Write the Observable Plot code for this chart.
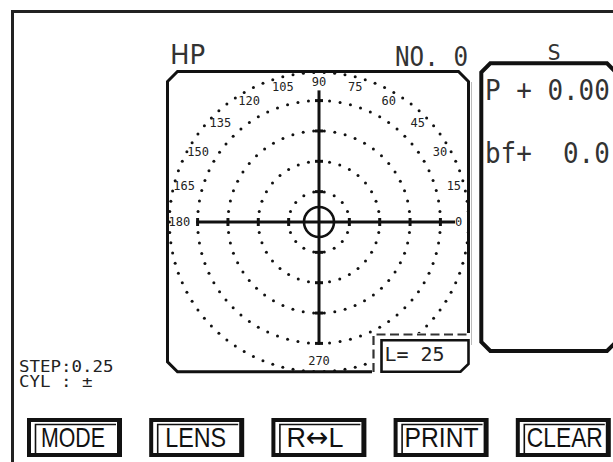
<!DOCTYPE html>
<html><head><meta charset="utf-8">
<script src="https://cdn.jsdelivr.net/npm/d3@7"></script>
<script src="https://cdn.jsdelivr.net/npm/@observablehq/plot@0.6"></script>
<style>
html,body{margin:0;padding:0;background:#fff;}
#wrap{position:relative;width:613px;height:462px;overflow:hidden;background:#fff;}
#wrap svg{position:absolute;left:0;top:0;}
</style>
</head><body>
<div id="wrap"></div>
<script>
// ---- data ----
const ringRadii = [1, 2, 3, 4, 4.93];          // dotted rings (scale units)
const ringDotCounts = [18, 36, 54, 72, 90];     // dots per ring
const angleLabels = [0, 15, 30, 45, 60, 75, 90, 105, 120, 135, 150, 165, 180, 270];
const labelRadius = 4.6;
const axisTickRadii = [1, 2, 3, 4];
const hAxisExtent = [-4.02, 4.5];
const vAxisExtent = [-4.02, 4.32];
const centerMark = [{x: 0, y: 0}];
const headerTexts = ["HP", "NO. 0", "S"];
const powerTexts = ["P + 0.00", "bf+  0.0"];
const lensTexts = ["L= 25"];
const statusTexts = ["STEP:0.25", "CYL : \u00B1"];
const buttonLabels = ["MODE", "LENS", "R\u2194L", "PRINT", "CLEAR"];

// ---- layout ----
const W = 613, H = 462;
const cx = 318.5, cy = 221.5, ppu = 30.35;
const rad = d => d * Math.PI / 180;

const ringDots = ringRadii.flatMap((r, i) =>
  d3.range(ringDotCounts[i]).map(k => {
    const a = 2 * Math.PI * k / ringDotCounts[i];
    return {x: r * Math.cos(a), y: r * Math.sin(a)};
  }));
const th = 4 / ppu;
const hTicks = axisTickRadii.flatMap(r => [r, -r]).map(v => ({x1: v, x2: v, y1: -th, y2: th}));
const vTicks = axisTickRadii.flatMap(r => [r, -r]).map(v => ({x1: -th, x2: th, y1: v, y2: v}));

const plot = Plot.plot({
  width: W, height: H, margin: 0,
  x: {domain: [-cx / ppu, (W - cx) / ppu], range: [0, W], axis: null},
  y: {domain: [-(H - cy) / ppu, cy / ppu], range: [H, 0], axis: null},
  style: {background: "transparent"},
  marks: [
    Plot.dot(ringDots, {x: "x", y: "y", r: 1.5, fill: "#111", stroke: "none"}),
    Plot.ruleY([0], {x1: hAxisExtent[0], x2: hAxisExtent[1], stroke: "#111", strokeWidth: 3}),
    Plot.ruleX([0], {y1: vAxisExtent[0], y2: vAxisExtent[1], stroke: "#111", strokeWidth: 3}),
    Plot.link(hTicks, {x1: "x1", x2: "x2", y1: "y1", y2: "y2", stroke: "#111", strokeWidth: 3}),
    Plot.link(vTicks, {x1: "x1", x2: "x2", y1: "y1", y2: "y2", stroke: "#111", strokeWidth: 3}),
    Plot.dot(centerMark, {x: "x", y: "y", r: 15, stroke: "#111", strokeWidth: 2.6, fill: "none"}),
    Plot.text(angleLabels, {
      x: a => labelRadius * Math.cos(rad(a)), y: a => labelRadius * Math.sin(rad(a)),
      text: a => String(a), fontSize: 12, fontFamily: "DejaVu Sans Mono", fill: "#222"
    })
  ]
});
document.getElementById("wrap").appendChild(plot);

// ---- instrument chrome ----
const svg = d3.select("#wrap").append("svg").attr("width", W).attr("height", H)
  .style("font-family", "'DejaVu Sans Mono', monospace");

const chamfer = (x0, y0, x1, y1, c) =>
  `M${x0 + c},${y0}H${x1 - c}L${x1},${y0 + c}V${y1 - c}L${x1 - c},${y1}H${x0 + c}L${x0},${y1 - c}V${y0 + c}Z`;

svg.append("path").attr("d", "M12.5,462V11.5H613").attr("fill", "none").attr("stroke", "#222").attr("stroke-width", 3);
svg.append("path").attr("d", chamfer(167.5, 71.5, 468.5, 371.8, 10)).attr("fill", "none").attr("stroke", "#111").attr("stroke-width", 3);
svg.append("line").attr("x1", 471.5).attr("x2", 471.5).attr("y1", 82).attr("y2", 345).attr("stroke", "#bbb").attr("stroke-width", 1);

// L box
svg.append("rect").attr("x", 372).attr("y", 333).attr("width", 99).attr("height", 42).attr("fill", "#fff");
svg.append("path").attr("d", "M373.5,372V334.5H469").attr("fill", "none").attr("stroke", "#333")
  .attr("stroke-width", 2.2).attr("stroke-dasharray", "9 4.5");
svg.append("path").attr("d", "M381.5,340.3H468.5V364L460.5,371.8H381.5Z").attr("fill", "#fff").attr("stroke", "#111").attr("stroke-width", 2.6);
svg.append("text").attr("x", 384.5).attr("y", 361).attr("font-size", 20).attr("fill", "#222")
  .attr("textLength", 60).attr("lengthAdjust", "spacingAndGlyphs").text(lensTexts[0]);

// S panel
svg.append("path").attr("d", chamfer(481.3, 63.3, 616, 351, 9)).attr("fill", "none").attr("stroke", "#111").attr("stroke-width", 4);

// headers
svg.append("text").attr("x", 170).attr("y", 64).attr("font-size", 26).attr("fill", "#333")
  .attr("font-family", "'DejaVu Sans', sans-serif").text(headerTexts[0]);
svg.append("text").attr("x", 395).attr("y", 66).attr("font-size", 26).attr("fill", "#333")
  .attr("textLength", 73).attr("lengthAdjust", "spacingAndGlyphs").style("white-space", "pre").text(headerTexts[1]);
svg.append("text").attr("x", 554).attr("y", 59.5).attr("font-size", 22).attr("fill", "#333").attr("text-anchor", "middle").text(headerTexts[2]);

// power readings
[[100, 0], [163, 1]].forEach(([y, i]) =>
  svg.append("text").attr("x", 485).attr("y", y).attr("font-size", 29).attr("fill", "#333")
    .attr("textLength", 8 * 15.6).attr("lengthAdjust", "spacingAndGlyphs").style("white-space", "pre")
    .text(powerTexts[i]));

// status
[[9 * 10.5], [7 * 10.5]].forEach(([len], i) =>
  svg.append("text").attr("x", 19).attr("y", 371.5 + i * 15.5).attr("font-size", 16).attr("fill", "#222")
    .attr("textLength", len).attr("lengthAdjust", "spacingAndGlyphs")
    .style("white-space", "pre").text(statusTexts[i]));

// buttons
const labelWidths = [64, 61, 57, 74, 76];
const labelInset = [14, 16, 15, 11, 11];
buttonLabels.forEach((lab, i) => {
  const x = 27 + i * 122.2, y = 418, w = 95, h = 39;
  const g = svg.append("g");
  g.append("rect").attr("x", x).attr("y", y).attr("width", w).attr("height", h).attr("fill", "#111");
  g.append("rect").attr("x", x + 4).attr("y", y + 4).attr("width", w - 9).attr("height", h - 8).attr("fill", "#fff");
  g.append("path").attr("d", `M${x + 8.5},${y + h - 4}V${y + 6.5}H${x + w - 6}`).attr("fill", "none").attr("stroke", "#111").attr("stroke-width", 1.6);
  const t = g.append("text").attr("x", x + labelInset[i]).attr("y", y + 29.3)
    .attr("font-family", "'Liberation Sans', sans-serif")
    .attr("textLength", labelWidths[i]).attr("lengthAdjust", "spacingAndGlyphs")
    .attr("font-size", 28).attr("fill", "#111");
  // render arrow glyphs in DejaVu Sans for a full-size arrow
  lab.split(/(\u2194)/).filter(s => s).forEach(s => {
    const ts = t.append("tspan").text(s);
    if (s === "\u2194") ts.attr("font-family", "'DejaVu Sans', sans-serif");
  });
});
</script>
</body></html>
